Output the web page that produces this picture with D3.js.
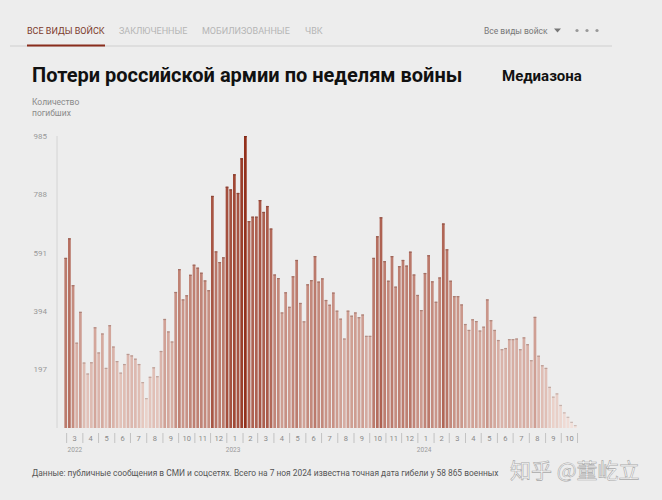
<!DOCTYPE html>
<html lang="ru">
<head>
  <meta charset="UTF-8">
  <script src="https://d3js.org/d3.v7.min.js"></script>
  <style>
    body {
      margin: 0;
      background: #ededed;
    }
    svg {
      display: block;
      font-family: Roboto, "Noto Sans", sans-serif;
    }
  </style>
</head>
<body>
  <div id="chart"></div>

  <script>
    // weekly losses, first week starts 24 Feb 2022
    var startDate = new Date(2022, 1, 24);
    var weekly = [
      574, 640, 482, 288, 392, 221, 184, 222, 340, 255,
      319, 203, 347, 275, 226, 187, 216, 250, 245, 234,
      216, 155, 101, 173, 205, 175, 260, 368, 326, 292,
      459, 536, 434, 448, 517, 551, 541, 524, 498, 465,
      783, 596, 560, 576, 814, 805, 856, 793, 910, 985,
      698, 713, 713, 769, 729, 749, 673, 518, 506, 390,
      458, 409, 512, 567, 422, 360, 485, 499, 580, 494,
      505, 432, 416, 457, 396, 369, 302, 396, 379, 390,
      374, 383, 311, 311, 574, 647, 711, 563, 497, 580,
      477, 546, 567, 548, 595, 518, 449, 398, 523, 583,
      495, 426, 508, 690, 603, 497, 445, 445, 417, 351,
      331, 367, 361, 329, 342, 434, 364, 331, 297, 266,
      270, 300, 300, 302, 266, 306, 283, 229, 375, 244,
      212, 203, 139, 106, 117, 78, 53, 38, 21, 10
    ];
    var yTicks = [197, 394, 591, 788, 985];
    var tabs = ["ВСЕ ВИДЫ ВОЙСК", "ЗАКЛЮЧЕННЫЕ", "МОБИЛИЗОВАННЫЕ", "ЧВК"];
    var yearLabels = [2022, 2023, 2024];

    var width = 662, height = 500;
    var plotLeft = 64, plotRight = 577, plotTop = 136, plotBottom = 428;

    var svg = d3.select("#chart").append("svg")
      .attr("width", width)
      .attr("height", height);

    // --- tabs on top
    var tabX = [27, 119, 202, 305];
    svg.selectAll(".tab")
      .data(tabs)
      .enter().append("text")
      .attr("class", "tab")
      .attr("x", function (d, i) { return tabX[i]; })
      .attr("y", 34)
      .style("font-size", "9px")
      .style("fill", function (d, i) { return i === 0 ? "#7b3a2c" : "#b5b5b5"; })
      .text(function (d) { return d; });

    svg.append("line")
      .attr("x1", 10).attr("x2", 612)
      .attr("y1", 46).attr("y2", 46)
      .style("stroke", "#cfcfcf").style("stroke-width", 1);
    svg.append("line")
      .attr("x1", 27).attr("x2", 105)
      .attr("y1", 45.5).attr("y2", 45.5)
      .style("stroke", "#8a2d1c").style("stroke-width", 2);

    svg.append("text")
      .attr("x", 484).attr("y", 34)
      .style("font-size", "8.5px").style("fill", "#777")
      .text("Все виды войск");
    svg.append("path")
      .attr("d", "M554,28.5 L561,28.5 L557.5,32.5 Z")
      .style("fill", "#777");
    svg.selectAll(".dot")
      .data([577, 587, 597])
      .enter().append("circle")
      .attr("cx", function (d) { return d; })
      .attr("cy", 30.5)
      .attr("r", 1.6)
      .style("fill", "#999");

    // --- title
    svg.append("text")
      .attr("x", 32).attr("y", 82)
      .style("font-size", "20px").style("font-weight", "bold").style("fill", "#111")
      .text("Потери российской армии по неделям войны");
    svg.append("text")
      .attr("x", 502).attr("y", 81)
      .style("font-size", "15px").style("font-weight", "bold").style("fill", "#111")
      .text("Медиазона");

    svg.append("text")
      .attr("x", 32).attr("y", 105)
      .style("font-size", "8.5px").style("fill", "#8a8a8a")
      .text("Количество");
    svg.append("text")
      .attr("x", 32).attr("y", 116)
      .style("font-size", "8.5px").style("fill", "#8a8a8a")
      .text("погибших");

    // --- scales
    var x = d3.scaleBand()
      .domain(d3.range(weekly.length))
      .range([plotLeft, plotRight])
      .paddingInner(0.26)
      .paddingOuter(0.1);

    var endDate = d3.timeDay.offset(startDate, weekly.length * 7);
    var xTime = d3.scaleTime()
      .domain([startDate, endDate])
      .range([plotLeft, plotRight]);

    var y = d3.scaleLinear()
      .domain([0, 985])
      .range([plotBottom, plotTop]);

    var color = d3.scaleLinear()
      .domain([0, 985])
      .range(["#f4e4de", "#93301c"]);

    // y axis
    svg.append("line")
      .attr("x1", 57).attr("x2", 57)
      .attr("y1", plotTop).attr("y2", plotBottom)
      .style("stroke", "#d4d4d4").style("stroke-width", 1);

    svg.selectAll(".ytick")
      .data(yTicks)
      .enter().append("text")
      .attr("class", "ytick")
      .attr("x", 47)
      .attr("y", function (d) { return y(d); })
      .attr("dy", "0.35em")
      .style("text-anchor", "end")
      .style("font-size", "8px")
      .style("fill", "#999")
      .text(function (d) { return d; });

    // bars
    var bars = svg.append("g");
    bars.selectAll("rect")
      .data(weekly)
      .enter().append("rect")
      .attr("x", function (d, i) { return x(i); })
      .attr("y", function (d) { return y(d); })
      .attr("width", x.bandwidth())
      .attr("height", function (d) { return plotBottom - y(d); })
      .style("fill", function (d) { return color(d); });

    bars.selectAll("line")
      .data(weekly)
      .enter().append("line")
      .attr("x1", function (d, i) { return x(i); })
      .attr("x2", function (d, i) { return x(i) + x.bandwidth(); })
      .attr("y1", function (d) { return y(d) + 0.6; })
      .attr("y2", function (d) { return y(d) + 0.6; })
      .style("stroke", function (d) { return d3.color(color(d)).darker(0.5); })
      .style("stroke-width", 1.2);

    // month axis
    var months = d3.timeMonth.range(d3.timeMonth.ceil(startDate), endDate, 1);
    var seps = months.concat([d3.timeMonth.ceil(endDate)]);

    svg.selectAll(".sep")
      .data(seps)
      .enter().append("line")
      .attr("class", "sep")
      .attr("x1", function (d) { return Math.min(xTime(d), plotRight + 1); })
      .attr("x2", function (d) { return Math.min(xTime(d), plotRight + 1); })
      .attr("y1", 433).attr("y2", 443)
      .style("stroke", "#b0b0b0").style("stroke-width", 0.7);

    svg.selectAll(".month")
      .data(months)
      .enter().append("text")
      .attr("class", "month")
      .attr("x", function (d) {
        var next = d3.timeMonth.offset(d, 1);
        return (xTime(d) + Math.min(xTime(next), plotRight + 1)) / 2;
      })
      .attr("y", 441)
      .style("text-anchor", "middle")
      .style("font-size", "7.5px")
      .style("fill", "#8a8a8a")
      .text(function (d) { return d.getMonth() + 1; });

    svg.selectAll(".year")
      .data(yearLabels)
      .enter().append("text")
      .attr("class", "year")
      .attr("x", function (d) {
        var d0 = new Date(d, 0, 1);
        return d0 < startDate ? xTime(d3.timeMonth.ceil(startDate)) + 1 : xTime(d0) - 1;
      })
      .attr("y", 452)
      .style("font-size", "6.5px")
      .style("fill", "#9a9a9a")
      .text(function (d) { return d; });

    // footer
    svg.append("text")
      .attr("x", 32).attr("y", 476)
      .style("font-size", "8.4px").style("fill", "#555")
      .text("Данные: публичные сообщения в СМИ и соцсетях. Всего на 7 ноя 2024 известна точная дата гибели у 58 865 военных");

    svg.append("text")
      .attr("x", 510).attr("y", 478)
      .style("font-family", "'Noto Sans CJK SC', sans-serif")
      .style("font-size", "21px")
      .style("fill", "#fafafa")
      .style("stroke", "#a8a8a8")
      .style("stroke-width", 0.6)
      .text("知乎 @董屹立");
  </script>
</body>
</html>
